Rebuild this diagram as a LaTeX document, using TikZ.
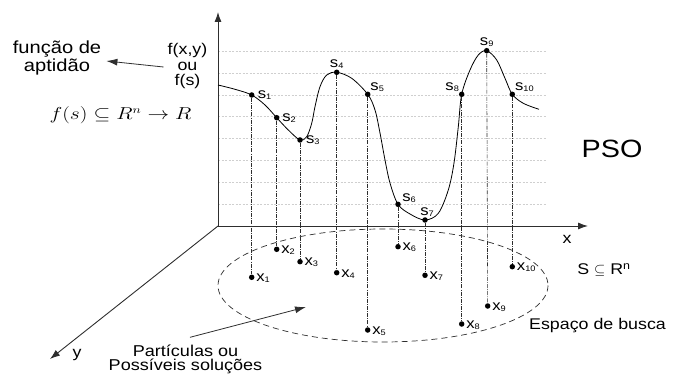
\documentclass[tikz,border=0pt]{standalone}
\usepackage{fontspec}
\setmainfont{Liberation Sans}[FakeStretch=1.15]
\usepackage{graphicx}
\usepackage{xcolor}
\usetikzlibrary{arrows.meta,positioning,calc}

\definecolor{axisgray}{HTML}{2E2E2E}
\definecolor{gridgray}{HTML}{CFCFCF}
\newcommand{\idx}[1]{\raisebox{-1pt}{\fontsize{8}{9}\selectfont #1}}

\begin{document}
\begin{tikzpicture}[
    x=1pt, y=-1pt,
    font=\fontsize{15.5}{15.5}\selectfont,
    node distance=0.5pt,
    axis/.style={-{Latex[length=10pt,width=7pt]}, line width=0.9pt, draw=axisgray},
    arrow/.style={-{Latex[length=11pt,width=7pt]}, line width=0.8pt, draw=axisgray},
    gridline/.style={draw=gridgray, line width=0.5pt, dash pattern=on 2pt off 1.5pt},
    curve/.style={draw=black, line width=0.8pt},
    dropline/.style={draw=axisgray, line width=0.6pt, dash pattern=on 4pt off 1.2pt on 0.8pt off 1.2pt},
    searchspace/.style={draw=axisgray, line width=0.7pt, dash pattern=on 6pt off 4pt},
    ptdot/.style={circle, fill=black, inner sep=0pt, minimum size=5.5pt},
    ptlabel/.style={inner sep=0.5pt, font=\fontsize{14.5}{15}\selectfont}
]
    \useasboundingbox (0,0) rectangle (683,374);

    % grid of fitness levels
    \draw[gridline] (218,51) -- (547,51);
    \draw[gridline] (218,72.9) -- (547,72.9);
    \draw[gridline] (218,94.8) -- (547,94.8);
    \draw[gridline] (218,116.7) -- (547,116.7);
    \draw[gridline] (218,138.6) -- (547,138.6);
    \draw[gridline] (218,160.5) -- (547,160.5);
    \draw[gridline] (218,182.4) -- (547,182.4);
    \draw[gridline] (218,204.3) -- (547,204.3);

    % search space
    \draw[searchspace] (383,285.5) ellipse [x radius=165, y radius=56.5];

    % axes
    \coordinate (origin) at (218,226);
    \coordinate (ztip) at (218,12);
    \coordinate (xtip) at (588,226);
    \coordinate (ytip) at (50,359);
    \draw[axis] (origin) -- (ztip);
    \draw[axis] (origin) -- (xtip);
    \draw[axis] (origin) -- (ytip);
    \node (xlab) at (567,239) {x};
    \node (ylab) at (77,355) {y};

    % fitness function
    \draw[curve] plot[smooth, tension=0.55] coordinates {(218,85) (235,89.3) (251.7,95) (265,105) (276.7,117.7) (288.3,130) (300,140) (306.7,136.7) (311.7,123.3) (315,106.7) (320,86.7) (326.7,75) (336.7,72.3) (351.7,78.3) (367.7,94.3) (375,110) (380,133) (385,160) (390,183) (398,204.3) (410,214) (425,220) (438.3,213.3) (448.3,190) (454,163) (458.3,126.7) (461.7,94.3) (470,70) (478.3,55) (486.7,50.7) (496.7,60) (505,78.3) (512.3,94.3) (523.3,103.3) (539,109.3)};

    % solutions on the curve
    \node (s1) [ptdot] at (251.7,95) {};
    \node (s2) [ptdot] at (276.7,117.7) {};
    \node (s3) [ptdot] at (300,140) {};
    \node (s4) [ptdot] at (336.7,72.3) {};
    \node (s5) [ptdot] at (367.7,94.3) {};
    \node (s6) [ptdot] at (398,204.3) {};
    \node (s7) [ptdot] at (425,220) {};
    \node (s8) [ptdot] at (461.7,94.3) {};
    \node (s9) [ptdot] at (486.7,50.7) {};
    \node (s10) [ptdot] at (512.3,94.3) {};

    % particles in the search space
    \node (x1) [ptdot] at (251.7,277.3) {};
    \node (x2) [ptdot] at (276.7,249.3) {};
    \node (x3) [ptdot] at (300,261.7) {};
    \node (x4) [ptdot] at (336.7,272.7) {};
    \node (x5) [ptdot] at (367.7,330) {};
    \node (x6) [ptdot] at (398,246.7) {};
    \node (x7) [ptdot] at (425,275.3) {};
    \node (x8) [ptdot] at (461.7,324) {};
    \node (x9) [ptdot] at (487.7,306) {};
    \node (x10) [ptdot] at (512.3,266.7) {};

    \draw[dropline] (s1) -- (x1);
    \draw[dropline] (s2) -- (x2);
    \draw[dropline] (s3) -- (x3);
    \draw[dropline] (s4) -- (x4);
    \draw[dropline] (s5) -- (x5);
    \draw[dropline] (s6) -- (x6);
    \draw[dropline] (s7) -- (x7);
    \draw[dropline] (s8) -- (x8);
    \draw[dropline] (s9) -- (x9);
    \draw[dropline] (s10) -- (x10);

    \node (ls1) [ptlabel, right=2.5pt of s1] {s\idx{1}};
    \node (ls2) [ptlabel, right=2pt of s2] {s\idx{2}};
    \node (ls3) [ptlabel, right=2.5pt of s3] {s\idx{3}};
    \node (ls4) [ptlabel, above=0pt of s4] {s\idx{4}};
    \node (ls5) [ptlabel, above right=0pt and 0pt of s5] {s\idx{5}};
    \node (ls6) [ptlabel, above right=-1pt and 1.5pt of s6] {s\idx{6}};
    \node (ls7) [ptlabel, above=0pt of s7, xshift=2pt] {s\idx{7}};
    \node (ls8) [ptlabel, above left=0pt and 0pt of s8] {s\idx{8}};
    \node (ls9) [ptlabel, above=0pt of s9] {s\idx{9}};
    \node (ls10) [ptlabel, above right=0pt and 0pt of s10] {s\idx{10}};

    \node (lx1) [ptlabel, right=1pt of x1, yshift=-1pt] {x\idx{1}};
    \node (lx2) [ptlabel, right=1pt of x2, yshift=-1pt] {x\idx{2}};
    \node (lx3) [ptlabel, right=1pt of x3, yshift=-1pt] {x\idx{3}};
    \node (lx4) [ptlabel, right=1pt of x4, yshift=-1pt] {x\idx{4}};
    \node (lx5) [ptlabel, right=1pt of x5, yshift=-1pt] {x\idx{5}};
    \node (lx6) [ptlabel, right=1pt of x6, yshift=-1pt] {x\idx{6}};
    \node (lx7) [ptlabel, right=1pt of x7, yshift=-1pt] {x\idx{7}};
    \node (lx8) [ptlabel, right=1pt of x8, yshift=-1pt] {x\idx{8}};
    \node (lx9) [ptlabel, right=1pt of x9, yshift=-1pt] {x\idx{9}};
    \node (lx10) [ptlabel, right=1pt of x10, yshift=-1pt] {x\idx{10}};

    % texts
    \node (aptid) [align=center, inner sep=0pt, font=\fontsize{17.5}{15.5}\selectfont] at (57,58) {função de\\aptidão};
    \node (fxy) [align=center, inner sep=0pt] at (187.5,66) {f(x,y)\\ou\\f(s)};
    \draw[arrow] ($(fxy.west)+(-4,1)$) -- ($(aptid.east)+(5,3)$);
    \node (fitness) [inner sep=0pt] at (120.5,115) {\scalebox{1.25}[1]{\fontsize{16}{16}\selectfont $f(s)\subseteq R^{n}\rightarrow R$}};

    \node (pso) at (612,149) {\fontsize{25}{28}\selectfont PSO};
    \node (space) at (604,270) {S $\subseteq$ R\textsuperscript{n}};
    \node (busca) at (597.5,325.3) {Espaço de busca};

    \node (parts) [align=center, inner sep=0pt, font=\fontsize{15.7}{14.7}\selectfont] at (185.5,359.3) {Partículas ou\\Possíveis soluções};
    \coordinate (ptip) at (306,307);
    \draw[arrow] ($(parts.north)+(4.5,-7)$) -- (ptip);
\end{tikzpicture}
\end{document}
